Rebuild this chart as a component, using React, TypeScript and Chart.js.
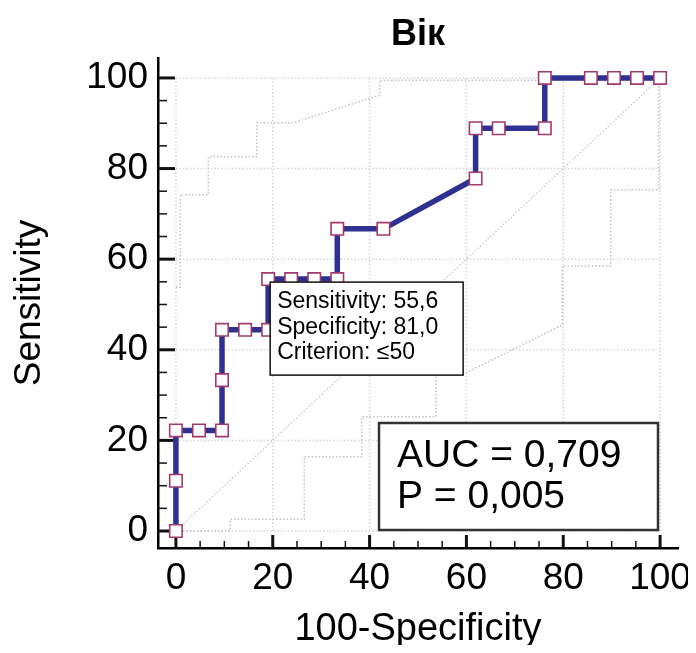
import React, { useEffect, useRef } from 'react';
import { Chart, registerables } from 'chart.js';

Chart.register(...registerables);

const FONT = '"Liberation Sans", Arial, Helvetica, sans-serif';

// ---- text ----
const chartTitle = 'Вік';
const xAxisTitle = '100-Specificity';
const yAxisTitle = 'Sensitivity';
const infoLines = ['Sensitivity: 55,6', 'Specificity: 81,0', 'Criterion: \u226450'];
const aucLines = ['AUC = 0,709', 'P = 0,005'];

// ---- axes ----
const tickValues = [0, 20, 40, 60, 80, 100];
const minorTickValues = [0, 5, 10, 15, 20, 25, 30, 35, 40, 45, 50, 55, 60, 65, 70, 75, 80, 85, 90, 95, 100];

// ---- ROC curve (100-Specificity, Sensitivity) ----
const rocX = [0, 0, 0, 4.76, 9.52, 9.52, 9.52, 14.29, 19.05, 19.05, 23.81, 28.57, 33.33, 33.33, 42.86, 61.9, 61.9, 66.67, 76.19, 76.19, 85.71, 90.48, 95.24, 100];
const rocY = [0, 11.1, 22.2, 22.2, 22.2, 33.3, 44.4, 44.4, 44.4, 55.6, 55.6, 55.6, 55.6, 66.7, 66.7, 77.8, 88.9, 88.9, 88.9, 100, 100, 100, 100, 100];

// ---- confidence bounds ----
const upperX = [0, 0.9, 0.9, 6.7, 6.7, 16.7, 16.7, 24.2, 42.1, 42.1, 100];
const upperY = [53.8, 53.8, 74.2, 74.2, 82.6, 82.6, 90.1, 90.1, 96.2, 99.5, 99.5];
const lowerX = [0, 11.2, 11.2, 26.5, 26.5, 38.4, 38.4, 53.7, 53.7, 59.7, 79.8, 79.8, 89.8, 89.8, 99.7, 99.7];
const lowerY = [0, 0, 2.6, 2.6, 16.4, 16.4, 25.2, 25.2, 34.8, 34.8, 45.5, 58.5, 58.5, 75.3, 75.3, 100];

// ---- reference diagonal ----
const diagX = [0, 100];
const diagY = [0, 100];

// ---- criterion point (where the info box is anchored) ----
const criterionX = 19.05;
const criterionY = 55.6;

const toPoints = (xs: number[], ys: number[]) => xs.map((x, i) => ({ x, y: ys[i] }));

const decorPlugin = {
  id: 'rocDecor',
  beforeDatasetsDraw(chart: any) {
    const { ctx, chartArea } = chart;
    const x = chart.scales.x;
    const y = chart.scales.y;
    ctx.save();
    // dotted grid within the 0..100 region
    ctx.strokeStyle = '#d6d6d6';
    ctx.lineWidth = 1.5;
    ctx.setLineDash([1.5, 2]);
    for (const v of tickValues) {
      const px = x.getPixelForValue(v);
      ctx.beginPath();
      ctx.moveTo(px, y.getPixelForValue(0));
      ctx.lineTo(px, y.getPixelForValue(100));
      ctx.stroke();
      const py = y.getPixelForValue(v);
      ctx.beginPath();
      ctx.moveTo(x.getPixelForValue(0), py);
      ctx.lineTo(x.getPixelForValue(100), py);
      ctx.stroke();
    }
    ctx.setLineDash([]);
    // inward tick marks
    ctx.strokeStyle = '#111';
    for (const v of minorTickValues) {
      const major = tickValues.includes(v);
      ctx.lineWidth = major ? 3 : 1.5;
      const py = y.getPixelForValue(v);
      ctx.beginPath();
      ctx.moveTo(chartArea.left, py);
      ctx.lineTo(chartArea.left + (major ? 17 : 9), py);
      ctx.stroke();
      const px = x.getPixelForValue(v);
      ctx.beginPath();
      ctx.moveTo(px, chartArea.bottom);
      ctx.lineTo(px, chartArea.bottom - (major ? 13 : 7));
      ctx.stroke();
    }
    ctx.restore();
  },
  afterDatasetsDraw(chart: any) {
    const { ctx, chartArea } = chart;
    const x = chart.scales.x;
    const y = chart.scales.y;
    ctx.save();
    // criterion info box
    const bx = x.getPixelForValue(criterionX) + 2;
    const by = y.getPixelForValue(criterionY) + 3;
    const bw = 193;
    const bh = 93;
    ctx.fillStyle = '#ffffff';
    ctx.fillRect(bx, by, bw, bh);
    ctx.strokeStyle = '#111';
    ctx.lineWidth = 1.5;
    ctx.strokeRect(bx, by, bw, bh);
    ctx.fillStyle = '#000';
    ctx.font = `23px ${FONT}`;
    ctx.textAlign = 'left';
    ctx.textBaseline = 'alphabetic';
    infoLines.forEach((t, i) => ctx.fillText(t, bx + 7, by + 26 + i * 25.5));

    // AUC box
    const aw = 279;
    const ah = 107;
    const ax = chartArea.right - 20 - aw;
    const ay = chartArea.bottom - 18 - ah;
    ctx.fillStyle = '#ffffff';
    ctx.fillRect(ax, ay, aw, ah);
    ctx.strokeStyle = '#333';
    ctx.lineWidth = 2.5;
    ctx.strokeRect(ax, ay, aw, ah);
    ctx.fillStyle = '#000';
    ctx.font = `39px ${FONT}`;
    aucLines.forEach((t, i) => ctx.fillText(t, ax + 18, ay + 44 + i * 41));
    ctx.restore();
  },
};

export default function App() {
  const canvasRef = useRef<HTMLCanvasElement | null>(null);

  useEffect(() => {
    const canvas = canvasRef.current;
    if (!canvas) return;
    const band = {
      borderColor: '#c2c2c2',
      borderWidth: 1.5,
      borderDash: [1.5, 2],
      pointRadius: 0,
      showLine: true,
      fill: false,
      tension: 0,
    };
    const chart = new Chart(canvas, {
      type: 'scatter',
      data: {
        datasets: [
          {
            label: 'ROC',
            data: toPoints(rocX, rocY),
            showLine: true,
            borderColor: '#2e3192',
            borderWidth: 5.5,
            pointStyle: 'rect',
            pointRadius: 8.8,
            pointBorderWidth: 1.6,
            pointBorderColor: '#a33a6c',
            pointBackgroundColor: '#ffffff',
            tension: 0,
          },
          { label: 'Upper', data: toPoints(upperX, upperY), ...band },
          { label: 'Lower', data: toPoints(lowerX, lowerY), ...band },
          { label: 'Diagonal', data: toPoints(diagX, diagY), ...band, borderColor: '#cfcfcf' },
        ],
      },
      options: {
        responsive: false,
        animation: false,
        devicePixelRatio: 1,
        layout: { padding: { left: 0, right: 18, top: 0, bottom: 0 } },
        plugins: {
          legend: { display: false },
          tooltip: { enabled: false },
          title: {
            display: true,
            text: chartTitle,
            fullSize: false,
            color: '#000',
            font: { size: 36, weight: 'bold', family: FONT },
            padding: { top: 5, bottom: 1.8 },
          },
        },
        scales: {
          x: {
            type: 'linear',
            min: -3.7,
            max: 103.7,
            afterBuildTicks: (s: any) => {
              s.ticks = tickValues.map((v) => ({ value: v }));
            },
            afterFit: (s: any) => {
              s.height = 105;
              s.paddingLeft = 0;
              s.paddingRight = 0;
            },
            ticks: {
              color: '#000',
              font: { size: 37, family: FONT },
              padding: 9,
              maxRotation: 0,
              autoSkip: false,
            },
            grid: { display: false, drawTicks: false },
            border: { display: true, color: '#000', width: 2.5 },
            title: {
              display: true,
              text: xAxisTitle,
              color: '#000',
              font: { size: 38, family: FONT },
              padding: { top: 0, bottom: 1 },
            },
          },
          y: {
            type: 'linear',
            min: -3.75,
            max: 104.4,
            afterBuildTicks: (s: any) => {
              s.ticks = tickValues.map((v) => ({ value: v }));
            },
            afterFit: (s: any) => {
              s.width = 150;
              s.paddingTop = 0;
              s.paddingBottom = 0;
            },
            ticks: {
              color: '#000',
              font: { size: 37, family: FONT },
              padding: 10,
              autoSkip: false,
            },
            grid: { display: false, drawTicks: false },
            border: { display: true, color: '#000', width: 2.5 },
            title: {
              display: true,
              text: yAxisTitle,
              color: '#000',
              font: { size: 37, family: FONT },
              padding: { top: 0, bottom: 0 },
            },
          },
        },
      },
      plugins: [decorPlugin],
    } as any);
    return () => chart.destroy();
  }, []);

  return (
    <div style={{ width: 688, height: 645, marginBottom: -8 }}>
      <canvas ref={canvasRef} width={688} height={645} style={{ display: 'block' }} />
    </div>
  );
}
